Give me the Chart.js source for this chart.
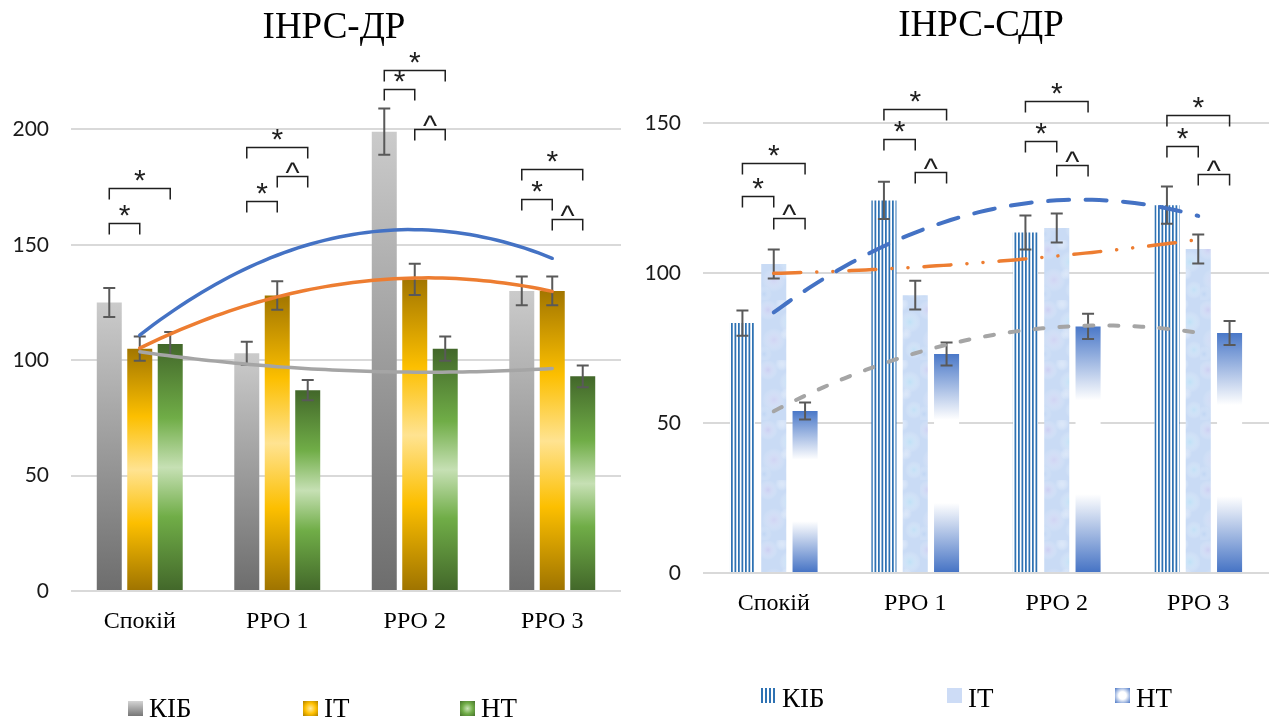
<!DOCTYPE html>
<html lang="uk">
<head>
<meta charset="utf-8">
<title>ІНРС-ДР / ІНРС-СДР</title>
<script src="https://cdn.jsdelivr.net/npm/chart.js@4.4.1/dist/chart.umd.min.js"></script>
<style>
  html, body { margin: 0; padding: 0; background: #fff; }
  #wrap { position: relative; width: 1269px; height: 722px; overflow: hidden; }
  canvas { position: absolute; top: 0; }
  #grafDR, #trendDR { left: 0; }
  #grafSDR, #trendSDR { left: 640px; }
  #trendDR, #trendSDR { pointer-events: none; }
</style>
</head>
<body>
<div id="wrap">
  <canvas id="grafDR" width="640" height="722"></canvas>
  <canvas id="trendDR" width="640" height="722"></canvas>
  <canvas id="grafSDR" width="629" height="722"></canvas>
  <canvas id="trendSDR" width="629" height="722"></canvas>
</div>
<script>
const categorie = ["Спокій", "РРО 1", "РРО 2", "РРО 3"];
const serie = ["КІБ", "ІТ", "НТ"];

// ІНРС-ДР: means and error bar half-widths
const drKIB = [125, 103, 199, 130];
const drIT = [105, 128, 135, 130];
const drNT = [107, 87, 105, 93];
const drErrKIB = [6.3, 5, 10, 6.2];
const drErrIT = [5.3, 6.2, 6.8, 6.2];
const drErrNT = [5.2, 4.4, 5.3, 4.7];
const drTick = [0, 50, 100, 150, 200];

// ІНРС-СДР
const sdrKIB = [83.3, 124.2, 113.5, 122.6];
const sdrIT = [103, 92.6, 115, 108];
const sdrNT = [54, 73, 82.2, 80];
const sdrErrKIB = [4.2, 6.2, 5.7, 6.2];
const sdrErrIT = [4.8, 4.8, 4.8, 4.8];
const sdrErrNT = [2.8, 3.8, 4.2, 4];
const sdrTick = [0, 50, 100, 150];

// significance brackets: [category, from series, to series, level, sign]
const drSegni = [
    [0, 0, 1, 159.4, "*"], [0, 0, 2, 174.6, "*"],
    [1, 0, 1, 169.1, "*"], [1, 1, 2, 180, "^"], [1, 0, 2, 192.5, "*"],
    [2, 0, 1, 217.4, "*"], [2, 0, 2, 225.5, "*"], [2, 1, 2, 200.2, "^"],
    [3, 0, 1, 169.9, "*"], [3, 0, 2, 182.7, "*"], [3, 1, 2, 161, "^"],
];
const sdrSegni = [
    [0, 0, 1, 125.7, "*"], [0, 1, 2, 118.5, "^"], [0, 0, 2, 136.8, "*"],
    [1, 0, 1, 144.6, "*"], [1, 0, 2, 154.8, "*"], [1, 1, 2, 133.5, "^"],
    [2, 0, 1, 143.9, "*"], [2, 0, 2, 157.2, "*"], [2, 1, 2, 135.9, "^"],
    [3, 0, 1, 142.3, "*"], [3, 0, 2, 152.8, "*"], [3, 1, 2, 133.1, "^"],
];

const coloriTrend = ["#4472c4", "#ed7d31", "#a5a5a5"];

// least squares parabola y = a + b*x + c*x^2 over x = 1..n
const fitParabola = (ys) => {
    const s = [0, 0, 0, 0, 0];
    const t = [0, 0, 0];
    ys.forEach((y, i) => {
        const x = i + 1;
        for (let k = 0; k < 5; k++) s[k] += x ** k;
        for (let k = 0; k < 3; k++) t[k] += y * x ** k;
    });
    const M = [[s[0], s[1], s[2]], [s[1], s[2], s[3]], [s[2], s[3], s[4]]];
    const det = (m) =>
        m[0][0] * (m[1][1] * m[2][2] - m[1][2] * m[2][1]) -
        m[0][1] * (m[1][0] * m[2][2] - m[1][2] * m[2][0]) +
        m[0][2] * (m[1][0] * m[2][1] - m[1][1] * m[2][0]);
    const D = det(M);
    return [0, 1, 2].map((col) => det(M.map((row, r) => row.map((v, c) => (c === col ? t[r] : v)))) / D);
};

// trend curve sampled on a linear axis that runs over the category indexes 0..n-1
const trendPunti = (ys) => {
    const [a, b, c] = fitParabola(ys);
    const punti = [];
    const passi = 60;
    for (let k = 0; k <= passi; k++) {
        const x = 1 + (k * (ys.length - 1)) / passi;
        punti.push({ x: x - 1, y: a + b * x + c * x * x });
    }
    return punti;
};

const gradVert = (stops) => (ctx, top, base) => {
    const g = ctx.createLinearGradient(0, top, 0, base);
    stops.forEach(([o, col]) => g.addColorStop(o, col));
    return g;
};

const gradRadiale = (stops) => (ctx, x, y, s) => {
    const g = ctx.createRadialGradient(x + s / 2, y + s / 2, 0, x + s / 2, y + s / 2, s * 0.72);
    stops.forEach(([o, col]) => g.addColorStop(o, col));
    ctx.fillStyle = g;
    ctx.fillRect(x, y, s, s);
};

// vertical blue stripes
const creaStrisce = () => {
    const c = document.createElement("canvas");
    c.width = 7;
    c.height = 8;
    const g = c.getContext("2d");
    g.fillStyle = "#ffffff";
    g.fillRect(0, 0, 7, 8);
    g.fillStyle = "#2e72b3";
    g.fillRect(0, 0, 1.75, 8);
    g.fillRect(3.5, 0, 1.75, 8);
    return g.createPattern(c, "repeat");
};

// pale blue tissue-like texture
const creaTessuto = () => {
    const c = document.createElement("canvas");
    c.width = 40;
    c.height = 60;
    const g = c.getContext("2d");
    g.fillStyle = "#c9dbf5";
    g.fillRect(0, 0, 40, 60);
    const macchie = [
        [8, 10, 10, "rgba(206,198,240,0.6)"],
        [30, 22, 11, "rgba(186,228,247,0.65)"],
        [14, 40, 12, "rgba(214,206,242,0.55)"],
        [34, 50, 9, "rgba(190,228,247,0.6)"],
        [22, 4, 7, "rgba(232,240,252,0.6)"],
        [4, 54, 8, "rgba(182,208,242,0.5)"],
        [26, 34, 6, "rgba(236,242,252,0.55)"],
    ];
    macchie.forEach(([x, y, r, col]) => {
        const rg = g.createRadialGradient(x, y, 0, x, y, r);
        rg.addColorStop(0, col);
        rg.addColorStop(1, "rgba(255,255,255,0)");
        g.fillStyle = rg;
        g.fillRect(0, 0, 40, 60);
    });
    return g.createPattern(c, "repeat");
};

const strisce = creaStrisce();
const tessuto = creaTessuto();

const riempiDR = [
    gradVert([[0, "#cbcbcb"], [1, "#6d6d6d"]]),
    gradVert([[0, "#a27600"], [0.28, "#fcbf00"], [0.5, "#ffe391"], [0.72, "#fcbf00"], [1, "#9e7300"]]),
    gradVert([[0, "#42672a"], [0.3, "#70ad47"], [0.5, "#c6e0b4"], [0.7, "#70ad47"], [1, "#42672a"]]),
];
const riempiSDR = [
    () => strisce,
    () => tessuto,
    gradVert([[0, "#4a78c8"], [0.3, "#ffffff"], [0.68, "#ffffff"], [1, "#4472c4"]]),
];

const legendaDR = [
    (ctx, x, y, s) => {
        ctx.fillStyle = gradVert([[0, "#d4d4d4"], [1, "#767676"]])(ctx, y, y + s);
        ctx.fillRect(x, y, s, s);
    },
    gradRadiale([[0, "#ffeaa0"], [0.5, "#ffc000"], [1, "#a87c00"]]),
    gradRadiale([[0, "#c8e2b6"], [0.5, "#70ad47"], [1, "#456e2c"]]),
];
const legendaSDR = [
    (ctx, x, y, s) => {
        ctx.fillStyle = "#ffffff";
        ctx.fillRect(x, y, s, s);
        ctx.fillStyle = "#2e72b3";
        for (let k = 0; k < 4; k++) ctx.fillRect(x + k * 4, y, 2, s);
    },
    (ctx, x, y, s) => {
        ctx.fillStyle = "#cddcf6";
        ctx.fillRect(x, y, s, s);
    },
    gradRadiale([[0, "#ffffff"], [0.35, "#ffffff"], [1, "#4472c4"]]),
];

const riempiBarra = (c, crea) => {
    const chart = c.chart;
    if (!chart.chartArea || c.type !== "data") return "rgba(0,0,0,0)";
    const y = chart.scales.y;
    return crea(chart.ctx, y.getPixelForValue(c.raw), y.getPixelForValue(0));
};

// error bars, brackets, title and legend
const pluginDisegno = (opz) => ({
    id: "disegno",
    afterDatasetsDraw(chart) {
        const ctx = chart.ctx;
        const y = chart.scales.y;
        ctx.save();
        ctx.strokeStyle = "#595959";
        ctx.lineWidth = 2;
        chart.data.datasets.forEach((ds, i) => {
            chart.getDatasetMeta(i).data.forEach((bar, j) => {
                const yt = y.getPixelForValue(ds.data[j] + ds.errori[j]);
                const yb = y.getPixelForValue(ds.data[j] - ds.errori[j]);
                ctx.beginPath();
                ctx.moveTo(bar.x, yt);
                ctx.lineTo(bar.x, yb);
                ctx.moveTo(bar.x - 6, yt);
                ctx.lineTo(bar.x + 6, yt);
                ctx.moveTo(bar.x - 6, yb);
                ctx.lineTo(bar.x + 6, yb);
                ctx.stroke();
            });
        });
        ctx.restore();
    },
    afterDraw(chart) {
        const ctx = chart.ctx;
        const y = chart.scales.y;
        ctx.save();
        // brackets
        ctx.strokeStyle = "#1f1f1f";
        ctx.lineWidth = 1.5;
        ctx.fillStyle = "#1f1f1f";
        ctx.font = '30px "Liberation Sans"';
        ctx.textAlign = "center";
        ctx.textBaseline = "alphabetic";
        opz.segni.forEach(([cat, a, b, livello, segno]) => {
            const xa = chart.getDatasetMeta(a).data[cat].x;
            const xb = chart.getDatasetMeta(b).data[cat].x;
            const yl = Math.round(y.getPixelForValue(livello)) + 0.5;
            ctx.beginPath();
            ctx.moveTo(xa, yl + 11);
            ctx.lineTo(xa, yl);
            ctx.lineTo(xb, yl);
            ctx.lineTo(xb, yl + 11);
            ctx.stroke();
            const m = ctx.measureText(segno);
            const centro = yl - (segno === "*" ? 13 : 9);
            ctx.fillText(segno, (xa + xb) / 2, centro + (m.actualBoundingBoxAscent - m.actualBoundingBoxDescent) / 2);
        });
        // title
        ctx.fillStyle = "#000";
        ctx.font = '37px "Liberation Serif"';
        ctx.fillText(opz.titolo, opz.titoloX, opz.titoloY);
        // legend
        ctx.textAlign = "left";
        ctx.font = '27px "Liberation Serif"';
        serie.forEach((nome, i) => {
            const x = opz.legendaX[i];
            opz.marcatori[i](ctx, x, opz.legendaY, 15);
            ctx.fillStyle = "#000";
            ctx.fillText(nome, x + 21, opz.legendaBase);
        });
        ctx.restore();
    },
});

const creaGrafico = (id, opz) => {
    const ctx = document.getElementById(id).getContext("2d");
    const datasets = opz.valori.map((val, i) => ({
        label: serie[i],
        data: val,
        errori: opz.errori[i],
        backgroundColor: (c) => riempiBarra(c, opz.riempimenti[i]),
        categoryPercentage: opz.categoryPercentage,
        barPercentage: opz.barPercentage,
    }));
    return new Chart(ctx, {
        type: "bar",
        data: { labels: categorie, datasets },
        options: {
            responsive: false,
            animation: false,
            devicePixelRatio: 1,
            layout: { padding: opz.padding },
            plugins: { legend: { display: false }, tooltip: { enabled: false }, title: { display: false } },
            scales: {
                x: {
                    grid: { display: false },
                    border: { display: false },
                    ticks: { color: "#000", font: { family: "Liberation Serif", size: 24 }, padding: 8, maxRotation: 0 },
                    afterFit: (s) => { s.height = opz.altezzaX; },
                },
                y: {
                    min: 0,
                    max: opz.max,
                    border: { display: false },
                    grid: { color: "#d9d9d9", lineWidth: 2, drawTicks: false },
                    ticks: { color: "#1a1a1a", font: { family: "Lato", size: 21 }, padding: 22 },
                    afterBuildTicks: (s) => { s.ticks = opz.tick.map((v) => ({ value: v })); },
                    afterFit: (s) => { s.width = opz.larghezzaY; },
                },
            },
        },
        plugins: [pluginDisegno(opz)],
    });
};

// second-order trend lines, laid over the bars with the same plot area
const creaTrend = (id, opz) => {
    const ctx = document.getElementById(id).getContext("2d");
    const datasets = opz.valori.map((val, i) => ({
        label: serie[i],
        data: trendPunti(val),
        borderColor: coloriTrend[i],
        borderWidth: opz.trend[i].larghezza,
        borderDash: opz.trend[i].tratto,
        borderCapStyle: "round",
        pointRadius: 0,
        fill: false,
        tension: 0,
    }));
    return new Chart(ctx, {
        type: "line",
        data: { datasets },
        options: {
            responsive: false,
            animation: false,
            devicePixelRatio: 1,
            layout: { padding: opz.padding },
            plugins: { legend: { display: false }, tooltip: { enabled: false }, title: { display: false } },
            scales: {
                x: {
                    type: "linear",
                    min: -0.5,
                    max: categorie.length - 0.5,
                    grid: { display: false },
                    border: { display: false },
                    ticks: { display: false },
                    afterFit: (s) => { s.height = opz.altezzaX; },
                },
                y: {
                    min: 0,
                    max: opz.max,
                    grid: { display: false },
                    border: { display: false },
                    ticks: { display: false },
                    afterFit: (s) => { s.width = opz.larghezzaY; },
                },
            },
        },
    });
};

const opzDR = {
    valori: [drKIB, drIT, drNT],
    errori: [drErrKIB, drErrIT, drErrNT],
    tick: drTick,
    segni: drSegni,
    riempimenti: riempiDR,
    marcatori: legendaDR,
    trend: [
        { larghezza: 3.5, tratto: [] },
        { larghezza: 3.5, tratto: [] },
        { larghezza: 3.5, tratto: [] },
    ],
    max: 240,
    padding: { top: 37, right: 19, left: 0, bottom: 0 },
    altezzaX: 131,
    larghezzaY: 71,
    categoryPercentage: 0.665,
    barPercentage: 0.82,
    titolo: "ІНРС-ДР",
    titoloX: 334,
    titoloY: 38,
    legendaX: [128, 303, 460],
    legendaY: 701,
    legendaBase: 717,
};

const opzSDR = {
    valori: [sdrKIB, sdrIT, sdrNT],
    errori: [sdrErrKIB, sdrErrIT, sdrErrNT],
    tick: sdrTick,
    segni: sdrSegni,
    riempimenti: riempiSDR,
    marcatori: legendaSDR,
    trend: [
        { larghezza: 4, tratto: [21, 16.5] },
        { larghezza: 3.5, tratto: [27, 16, 0.1, 16, 0.1, 16] },
        { larghezza: 4, tratto: [9, 16] },
    ],
    max: 175,
    padding: { top: 48, right: 0, left: 0, bottom: 0 },
    altezzaX: 149,
    larghezzaY: 63,
    categoryPercentage: 0.664,
    barPercentage: 0.8,
    titolo: "ІНРС-СДР",
    titoloX: 341,
    titoloY: 36,
    legendaX: [121, 307, 475],
    legendaY: 688,
    legendaBase: 707,
};

creaGrafico("grafDR", opzDR);
creaTrend("trendDR", opzDR);
creaGrafico("grafSDR", opzSDR);
creaTrend("trendSDR", opzSDR);
</script>
</body>
</html>
